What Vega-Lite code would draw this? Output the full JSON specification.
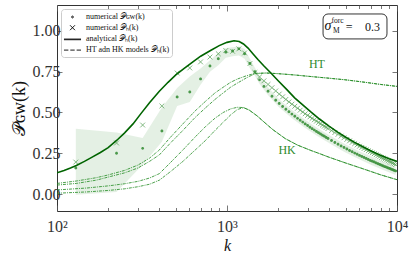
{
  "$schema": "https://vega.github.io/schema/vega-lite/v6.json",
  "width": 340,
  "height": 206,
  "autosize": {"type": "none"},
  "padding": {"left": 57, "top": 5, "right": 16, "bottom": 48},
  "config": {
    "view": {"stroke": "#333333", "strokeWidth": 1},
    "font": "Liberation Serif",
    "axis": {"grid": false, "domain": false, "labelFont": "Liberation Serif", "labelFontSize": 16, "labelColor": "#333333", "tickColor": "#555555", "tickWidth": 0.8, "titleFont": "Liberation Serif", "titleFontWeight": "normal", "titleColor": "#111111"},
    "legend": {"orient": "top-left", "offset": 4, "padding": 2, "rowPadding": 0.7, "labelFont": "Liberation Serif", "labelFontSize": 8, "labelColor": "#111111", "labelOffset": 7.5, "symbolOffset": 3.5, "symbolSize": 121, "symbolStrokeWidth": 0.9, "strokeColor": "#cccccc", "fillColor": "rgba(255,255,255,0.85)", "cornerRadius": 3, "symbolFillColor": "black", "symbolStrokeColor": "black", "symbolOpacity": 1}
  },
  "datasets": {
    "band": [
      {"k": 129, "lo": -0.005, "hi": 0.40}, {"k": 224, "lo": 0.012, "hi": 0.378}, {"k": 319, "lo": 0.18, "hi": 0.343}, {"k": 414, "lo": 0.32, "hi": 0.53},
      {"k": 509, "lo": 0.54, "hi": 0.65}, {"k": 604, "lo": 0.565, "hi": 0.72}, {"k": 699, "lo": 0.67, "hi": 0.77}, {"k": 794, "lo": 0.75, "hi": 0.82},
      {"k": 889, "lo": 0.79, "hi": 0.865}, {"k": 984, "lo": 0.835, "hi": 0.895}, {"k": 1079, "lo": 0.845, "hi": 0.90}, {"k": 1174, "lo": 0.85, "hi": 0.905},
      {"k": 1269, "lo": 0.83, "hi": 0.89}, {"k": 1364, "lo": 0.77, "hi": 0.83}, {"k": 1459, "lo": 0.725, "hi": 0.775}, {"k": 1554, "lo": 0.675, "hi": 0.725},
      {"k": 1744, "lo": 0.605, "hi": 0.655}, {"k": 2029, "lo": 0.53, "hi": 0.58}, {"k": 2409, "lo": 0.465, "hi": 0.515}, {"k": 2884, "lo": 0.405, "hi": 0.455},
      {"k": 3454, "lo": 0.351, "hi": 0.401}, {"k": 4119, "lo": 0.303, "hi": 0.353}, {"k": 4879, "lo": 0.26, "hi": 0.31}, {"k": 5829, "lo": 0.219, "hi": 0.269},
      {"k": 6969, "lo": 0.181, "hi": 0.231}, {"k": 8299, "lo": 0.147, "hi": 0.197}, {"k": 9819, "lo": 0.117, "hi": 0.167}
    ],
    "models": [
      {"s": "HT1", "k": 100, "v": 0.065}, {"s": "HT1", "k": 130, "v": 0.08}, {"s": "HT1", "k": 170, "v": 0.10}, {"s": "HT1", "k": 200, "v": 0.117}, {"s": "HT1", "k": 250, "v": 0.145}, {"s": "HT1", "k": 300, "v": 0.178}, {"s": "HT1", "k": 350, "v": 0.22}, {"s": "HT1", "k": 400, "v": 0.27}, {"s": "HT1", "k": 462, "v": 0.345}, {"s": "HT1", "k": 550, "v": 0.43}, {"s": "HT1", "k": 650, "v": 0.51}, {"s": "HT1", "k": 750, "v": 0.57}, {"s": "HT1", "k": 850, "v": 0.62}, {"s": "HT1", "k": 950, "v": 0.655}, {"s": "HT1", "k": 1050, "v": 0.685}, {"s": "HT1", "k": 1150, "v": 0.705}, {"s": "HT1", "k": 1300, "v": 0.725}, {"s": "HT1", "k": 1460, "v": 0.74}, {"s": "HT1", "k": 1700, "v": 0.742}, {"s": "HT1", "k": 2000, "v": 0.738}, {"s": "HT1", "k": 2500, "v": 0.73}, {"s": "HT1", "k": 3000, "v": 0.722}, {"s": "HT1", "k": 4000, "v": 0.71}, {"s": "HT1", "k": 5000, "v": 0.70}, {"s": "HT1", "k": 6500, "v": 0.685}, {"s": "HT1", "k": 8000, "v": 0.672}, {"s": "HT1", "k": 10000, "v": 0.66},
      {"s": "HT2", "k": 100, "v": 0.055}, {"s": "HT2", "k": 130, "v": 0.065}, {"s": "HT2", "k": 170, "v": 0.085}, {"s": "HT2", "k": 200, "v": 0.104}, {"s": "HT2", "k": 250, "v": 0.13}, {"s": "HT2", "k": 300, "v": 0.16}, {"s": "HT2", "k": 350, "v": 0.20}, {"s": "HT2", "k": 400, "v": 0.24}, {"s": "HT2", "k": 462, "v": 0.31}, {"s": "HT2", "k": 550, "v": 0.39}, {"s": "HT2", "k": 650, "v": 0.47}, {"s": "HT2", "k": 750, "v": 0.53}, {"s": "HT2", "k": 850, "v": 0.58}, {"s": "HT2", "k": 950, "v": 0.62}, {"s": "HT2", "k": 1050, "v": 0.655}, {"s": "HT2", "k": 1150, "v": 0.68}, {"s": "HT2", "k": 1300, "v": 0.712}, {"s": "HT2", "k": 1460, "v": 0.738}, {"s": "HT2", "k": 1700, "v": 0.742}, {"s": "HT2", "k": 2000, "v": 0.738}, {"s": "HT2", "k": 2500, "v": 0.73}, {"s": "HT2", "k": 3000, "v": 0.722}, {"s": "HT2", "k": 4000, "v": 0.71}, {"s": "HT2", "k": 5000, "v": 0.70}, {"s": "HT2", "k": 6500, "v": 0.685}, {"s": "HT2", "k": 8000, "v": 0.672}, {"s": "HT2", "k": 10000, "v": 0.66},
      {"s": "HK1", "k": 100, "v": 0.025}, {"s": "HK1", "k": 150, "v": 0.037}, {"s": "HK1", "k": 200, "v": 0.05}, {"s": "HK1", "k": 250, "v": 0.063}, {"s": "HK1", "k": 300, "v": 0.078}, {"s": "HK1", "k": 350, "v": 0.098}, {"s": "HK1", "k": 400, "v": 0.125}, {"s": "HK1", "k": 462, "v": 0.19}, {"s": "HK1", "k": 550, "v": 0.27}, {"s": "HK1", "k": 650, "v": 0.35}, {"s": "HK1", "k": 750, "v": 0.415}, {"s": "HK1", "k": 850, "v": 0.465}, {"s": "HK1", "k": 950, "v": 0.50}, {"s": "HK1", "k": 1050, "v": 0.522}, {"s": "HK1", "k": 1150, "v": 0.532}, {"s": "HK1", "k": 1250, "v": 0.53}, {"s": "HK1", "k": 1350, "v": 0.515}, {"s": "HK1", "k": 1500, "v": 0.48}, {"s": "HK1", "k": 1700, "v": 0.43}, {"s": "HK1", "k": 1860, "v": 0.395}, {"s": "HK1", "k": 2200, "v": 0.34}, {"s": "HK1", "k": 2600, "v": 0.30}, {"s": "HK1", "k": 3100, "v": 0.268}, {"s": "HK1", "k": 3500, "v": 0.248}, {"s": "HK1", "k": 4000, "v": 0.225}, {"s": "HK1", "k": 5000, "v": 0.19}, {"s": "HK1", "k": 6300, "v": 0.155}, {"s": "HK1", "k": 8000, "v": 0.118}, {"s": "HK1", "k": 10000, "v": 0.088},
      {"s": "HK2", "k": 100, "v": 0.005}, {"s": "HK2", "k": 150, "v": 0.013}, {"s": "HK2", "k": 200, "v": 0.022}, {"s": "HK2", "k": 250, "v": 0.032}, {"s": "HK2", "k": 300, "v": 0.045}, {"s": "HK2", "k": 350, "v": 0.06}, {"s": "HK2", "k": 400, "v": 0.085}, {"s": "HK2", "k": 462, "v": 0.135}, {"s": "HK2", "k": 550, "v": 0.20}, {"s": "HK2", "k": 650, "v": 0.27}, {"s": "HK2", "k": 750, "v": 0.33}, {"s": "HK2", "k": 850, "v": 0.39}, {"s": "HK2", "k": 950, "v": 0.44}, {"s": "HK2", "k": 1050, "v": 0.485}, {"s": "HK2", "k": 1150, "v": 0.518}, {"s": "HK2", "k": 1250, "v": 0.53}, {"s": "HK2", "k": 1350, "v": 0.515}, {"s": "HK2", "k": 1500, "v": 0.48}, {"s": "HK2", "k": 1700, "v": 0.43}, {"s": "HK2", "k": 1860, "v": 0.395}, {"s": "HK2", "k": 2200, "v": 0.34}, {"s": "HK2", "k": 2600, "v": 0.30}, {"s": "HK2", "k": 3100, "v": 0.268}, {"s": "HK2", "k": 3500, "v": 0.248}, {"s": "HK2", "k": 4000, "v": 0.225}, {"s": "HK2", "k": 5000, "v": 0.19}, {"s": "HK2", "k": 6300, "v": 0.155}, {"s": "HK2", "k": 8000, "v": 0.118}, {"s": "HK2", "k": 10000, "v": 0.088}
    ],
    "analytic": [
      {"k": 100, "v": 0.13}, {"k": 110, "v": 0.145}, {"k": 120, "v": 0.16}, {"k": 130, "v": 0.175}, {"k": 145, "v": 0.20}, {"k": 160, "v": 0.225}, {"k": 180, "v": 0.255}, {"k": 200, "v": 0.285}, {"k": 225, "v": 0.33}, {"k": 250, "v": 0.375}, {"k": 280, "v": 0.43}, {"k": 310, "v": 0.49}, {"k": 350, "v": 0.56}, {"k": 400, "v": 0.63}, {"k": 450, "v": 0.685}, {"k": 500, "v": 0.73}, {"k": 560, "v": 0.77}, {"k": 630, "v": 0.81}, {"k": 700, "v": 0.845}, {"k": 800, "v": 0.88}, {"k": 900, "v": 0.91}, {"k": 1000, "v": 0.93}, {"k": 1100, "v": 0.94}, {"k": 1180, "v": 0.935}, {"k": 1250, "v": 0.92}, {"k": 1330, "v": 0.895}, {"k": 1420, "v": 0.86}, {"k": 1520, "v": 0.825}, {"k": 1650, "v": 0.785}, {"k": 1800, "v": 0.745}, {"k": 2000, "v": 0.695}, {"k": 2250, "v": 0.64}, {"k": 2500, "v": 0.59}, {"k": 2800, "v": 0.545}, {"k": 3100, "v": 0.505}, {"k": 3500, "v": 0.46}, {"k": 4000, "v": 0.415}, {"k": 4500, "v": 0.378}, {"k": 5000, "v": 0.348}, {"k": 5600, "v": 0.318}, {"k": 6300, "v": 0.29}, {"k": 7000, "v": 0.265}, {"k": 8000, "v": 0.238}, {"k": 9000, "v": 0.217}, {"k": 10000, "v": 0.20}
    ],
    "crosses": [
      {"k": 129, "v": 0.196}, {"k": 224, "v": 0.313}, {"k": 319, "v": 0.423}, {"k": 414, "v": 0.54}, {"k": 509, "v": 0.742}, {"k": 604, "v": 0.773}, {"k": 699, "v": 0.81}, {"k": 794, "v": 0.84}, {"k": 889, "v": 0.86}, {"k": 984, "v": 0.88}, {"k": 1079, "v": 0.875}, {"k": 1174, "v": 0.89}, {"k": 1269, "v": 0.865}, {"k": 1364, "v": 0.80},
      {"k": 1459, "v": 0.745}, {"k": 1554, "v": 0.718}, {"k": 1649, "v": 0.694}, {"k": 1744, "v": 0.672}, {"k": 1839, "v": 0.652}, {"k": 1934, "v": 0.632}, {"k": 2029, "v": 0.613}, {"k": 2124, "v": 0.596}, {"k": 2219, "v": 0.58}, {"k": 2314, "v": 0.565}, {"k": 2409, "v": 0.551}, {"k": 2504, "v": 0.538}, {"k": 2599, "v": 0.526}, {"k": 2694, "v": 0.514}, {"k": 2789, "v": 0.503}, {"k": 2884, "v": 0.492}, {"k": 2979, "v": 0.482}, {"k": 3074, "v": 0.473}, {"k": 3169, "v": 0.464}, {"k": 3264, "v": 0.455}, {"k": 3359, "v": 0.447}, {"k": 3454, "v": 0.439}, {"k": 3549, "v": 0.431}, {"k": 3644, "v": 0.423}, {"k": 3739, "v": 0.416}, {"k": 3834, "v": 0.409}, {"k": 3929, "v": 0.402},
      {"k": 4119, "v": 0.389}, {"k": 4309, "v": 0.377}, {"k": 4499, "v": 0.366}, {"k": 4689, "v": 0.355}, {"k": 4879, "v": 0.345}, {"k": 5069, "v": 0.335}, {"k": 5259, "v": 0.326}, {"k": 5449, "v": 0.317}, {"k": 5639, "v": 0.309}, {"k": 5829, "v": 0.301}, {"k": 6019, "v": 0.293}, {"k": 6209, "v": 0.286}, {"k": 6399, "v": 0.279}, {"k": 6589, "v": 0.272}, {"k": 6779, "v": 0.265}, {"k": 6969, "v": 0.259}, {"k": 7159, "v": 0.253}, {"k": 7349, "v": 0.247}, {"k": 7539, "v": 0.241}, {"k": 7729, "v": 0.235}, {"k": 7919, "v": 0.23}, {"k": 8109, "v": 0.224}, {"k": 8299, "v": 0.219}, {"k": 8489, "v": 0.214}, {"k": 8679, "v": 0.209}, {"k": 8869, "v": 0.204}, {"k": 9059, "v": 0.199}, {"k": 9249, "v": 0.195}, {"k": 9439, "v": 0.19}, {"k": 9629, "v": 0.186}, {"k": 9819, "v": 0.181}
    ],
    "dots": [
      {"k": 129, "v": 0.16}, {"k": 224, "v": 0.25}, {"k": 319, "v": 0.28}, {"k": 414, "v": 0.386}, {"k": 509, "v": 0.595}, {"k": 604, "v": 0.626}, {"k": 699, "v": 0.706}, {"k": 794, "v": 0.785}, {"k": 889, "v": 0.83}, {"k": 984, "v": 0.87}, {"k": 1079, "v": 0.877}, {"k": 1174, "v": 0.89}, {"k": 1269, "v": 0.86}, {"k": 1364, "v": 0.80},
      {"k": 1459, "v": 0.75}, {"k": 1554, "v": 0.70}, {"k": 1649, "v": 0.66}, {"k": 1744, "v": 0.63}, {"k": 1839, "v": 0.60}, {"k": 1934, "v": 0.575}, {"k": 2029, "v": 0.555}, {"k": 2124, "v": 0.537}, {"k": 2219, "v": 0.52}, {"k": 2314, "v": 0.505}, {"k": 2409, "v": 0.49}, {"k": 2504, "v": 0.477}, {"k": 2599, "v": 0.464}, {"k": 2694, "v": 0.452}, {"k": 2789, "v": 0.441}, {"k": 2884, "v": 0.43}, {"k": 2979, "v": 0.42}, {"k": 3074, "v": 0.41}, {"k": 3169, "v": 0.401}, {"k": 3264, "v": 0.392}, {"k": 3359, "v": 0.384}, {"k": 3454, "v": 0.376}, {"k": 3549, "v": 0.368}, {"k": 3644, "v": 0.361}, {"k": 3739, "v": 0.354}, {"k": 3834, "v": 0.347}, {"k": 3929, "v": 0.34},
      {"k": 4119, "v": 0.328}, {"k": 4309, "v": 0.316}, {"k": 4499, "v": 0.305}, {"k": 4689, "v": 0.295}, {"k": 4879, "v": 0.285}, {"k": 5069, "v": 0.276}, {"k": 5259, "v": 0.267}, {"k": 5449, "v": 0.259}, {"k": 5639, "v": 0.251}, {"k": 5829, "v": 0.244}, {"k": 6019, "v": 0.237}, {"k": 6209, "v": 0.23}, {"k": 6399, "v": 0.224}, {"k": 6589, "v": 0.218}, {"k": 6779, "v": 0.212}, {"k": 6969, "v": 0.206}, {"k": 7159, "v": 0.201}, {"k": 7349, "v": 0.196}, {"k": 7539, "v": 0.191}, {"k": 7729, "v": 0.186}, {"k": 7919, "v": 0.181}, {"k": 8109, "v": 0.176}, {"k": 8299, "v": 0.172}, {"k": 8489, "v": 0.168}, {"k": 8679, "v": 0.164}, {"k": 8869, "v": 0.16}, {"k": 9059, "v": 0.156}, {"k": 9249, "v": 0.152}, {"k": 9439, "v": 0.149}, {"k": 9629, "v": 0.145}, {"k": 9819, "v": 0.142}
    ]
  },
  "layer": [
    {
      "data": {"name": "band"},
      "mark": {"type": "area", "color": "#2e8b2e", "opacity": 0.13, "clip": true},
      "encoding": {
        "x": {"field": "k", "type": "quantitative", "scale": {"type": "log", "domain": [100, 10000], "nice": false},
          "axis": {"orient": "bottom", "values": [100, 200, 300, 400, 500, 600, 700, 800, 900, 1000, 2000, 3000, 4000, 5000, 6000, 7000, 8000, 9000, 10000],
            "labelExpr": "datum.value == 100 ? '10²' : datum.value == 1000 ? '10³' : datum.value == 10000 ? '10⁴' : ''",
            "tickSize": {"condition": {"test": "datum.value == 100 || datum.value == 1000 || datum.value == 10000", "value": -6}, "value": -3.5},
            "labelPadding": 13, "labelOverlap": false, "labelFlush": false, "title": "k", "titleFontStyle": "italic", "titleFontSize": 16, "titleBaseline": "alphabetic", "titlePadding": 14}},
        "y": {"field": "lo", "type": "quantitative", "scale": {"domain": [-0.104, 1.159], "nice": false, "zero": false},
          "axis": {"orient": "left", "values": [0, 0.25, 0.5, 0.75, 1], "format": ".2f", "tickSize": -5, "labelPadding": 2, "title": "𝒫ɢᴡ(k)", "titleFontSize": 18, "titlePadding": 4}},
        "y2": {"field": "hi"}
      }
    },
    {
      "data": {"name": "models"},
      "mark": {"type": "line", "color": "#228b22", "opacity": 0.9, "strokeWidth": 0.9, "strokeDash": [3, 1, 1, 1], "clip": true},
      "encoding": {
        "x": {"field": "k", "type": "quantitative", "axis": null},
        "y": {"field": "v", "type": "quantitative", "axis": null},
        "detail": {"field": "s"}
      }
    },
    {
      "data": {"name": "crosses"},
      "mark": {"type": "point", "color": "#4a9a4a", "filled": false, "opacity": 0.85, "size": 113, "strokeWidth": 0.8, "clip": true},
      "encoding": {
        "x": {"field": "k", "type": "quantitative", "axis": null},
        "y": {"field": "v", "type": "quantitative", "axis": null},
        "shape": {"datum": "numerical 𝒫ₕ(k)", "type": "nominal", "title": null,
          "scale": {"domain": ["numerical 𝒫ɢᴡ(k)", "numerical 𝒫ₕ(k)", "analytical 𝒫ₕ(k)", "HT adn HK models 𝒫ₕ(k)"],
            "range": ["M-0.17,0A0.17,0.17,0,1,0,0.17,0A0.17,0.17,0,1,0,-0.17,0Z", "M-0.45,-0.45L0.45,0.45M-0.45,0.45L0.45,-0.45", "M-1.55,-0.06L1.55,-0.06M-1.55,0.06L1.55,0.06", "M-1.55,0L-0.75,0M-0.4,0L0.4,0M0.75,0L1.55,0"]},
          "legend": {"encode": {"symbols": {"update": {"fill": {"value": "black"}, "fillOpacity": {"value": 1}, "stroke": {"value": "black"}, "opacity": {"value": 1}}}}}}
      }
    },
    {
      "data": {"name": "dots"},
      "mark": {"type": "point", "color": "#3a8f3a", "filled": true, "opacity": 0.9, "size": 300, "clip": true},
      "encoding": {
        "x": {"field": "k", "type": "quantitative", "axis": null},
        "y": {"field": "v", "type": "quantitative", "axis": null},
        "shape": {"datum": "numerical 𝒫ɢᴡ(k)", "type": "nominal", "title": null,
          "legend": {"encode": {"symbols": {"update": {"fill": {"value": "black"}, "fillOpacity": {"value": 1}, "stroke": {"value": "black"}, "opacity": {"value": 1}}}}}}
      }
    },
    {
      "data": {"name": "analytic"},
      "mark": {"type": "line", "color": "#006400", "strokeWidth": 1.6, "clip": true},
      "encoding": {
        "x": {"field": "k", "type": "quantitative",
          "axis": {"orient": "top", "values": [100, 200, 300, 400, 500, 600, 700, 800, 900, 1000, 2000, 3000, 4000, 5000, 6000, 7000, 8000, 9000, 10000], "labels": false, "title": null,
            "tickSize": {"condition": {"test": "datum.value == 100 || datum.value == 1000 || datum.value == 10000", "value": -6}, "value": -3.5}}},
        "y": {"field": "v", "type": "quantitative",
          "axis": {"orient": "right", "values": [0, 0.25, 0.5, 0.75, 1], "labels": false, "title": null, "tickSize": -5}}
      }
    },
    {
      "data": {"values": [{}]},
      "mark": {"type": "text", "font": "Liberation Serif", "fontSize": 12, "color": "#2e8b2e"},
      "encoding": {"x": {"datum": 3381, "type": "quantitative", "axis": null}, "y": {"datum": 0.80, "type": "quantitative", "axis": null}, "text": {"value": "HT"}}
    },
    {
      "data": {"values": [{}]},
      "mark": {"type": "text", "font": "Liberation Serif", "fontSize": 12, "color": "#2e8b2e"},
      "encoding": {"x": {"datum": 2256, "type": "quantitative", "axis": null}, "y": {"datum": 0.273, "type": "quantitative", "axis": null}, "text": {"value": "HK"}}
    },
    {
      "data": {"values": [{}]},
      "mark": {"type": "rect", "fill": "white", "stroke": "#333333", "strokeWidth": 1, "cornerRadius": 5},
      "encoding": {"x": {"datum": 3673, "type": "quantitative", "axis": null}, "x2": {"datum": 8730}, "y": {"datum": 0.951, "type": "quantitative", "axis": null}, "y2": {"datum": 1.104}}
    },
    {
      "data": {"values": [{}]},
      "mark": {"type": "text", "font": "Liberation Serif", "fontSize": 14, "fontStyle": "italic", "color": "#111111"},
      "encoding": {"x": {"datum": 3926, "type": "quantitative", "axis": null}, "y": {"datum": 1.03, "type": "quantitative", "axis": null}, "text": {"value": "σ"}}
    },
    {
      "data": {"values": [{}]},
      "mark": {"type": "text", "font": "Liberation Serif", "fontSize": 7.5, "color": "#111111"},
      "encoding": {"x": {"datum": 4467, "type": "quantitative", "axis": null}, "y": {"datum": 1.058, "type": "quantitative", "axis": null}, "text": {"value": "forc"}}
    },
    {
      "data": {"values": [{}]},
      "mark": {"type": "text", "font": "Liberation Serif", "fontSize": 7.5, "color": "#111111"},
      "encoding": {"x": {"datum": 4400, "type": "quantitative", "axis": null}, "y": {"datum": 1.0, "type": "quantitative", "axis": null}, "text": {"value": "M"}}
    },
    {
      "data": {"values": [{}]},
      "mark": {"type": "text", "font": "Liberation Serif", "fontSize": 12, "color": "#111111"},
      "encoding": {"x": {"datum": 5226, "type": "quantitative", "axis": null}, "y": {"datum": 1.025, "type": "quantitative", "axis": null}, "text": {"value": "="}}
    },
    {
      "data": {"values": [{}]},
      "mark": {"type": "text", "font": "Liberation Serif", "fontSize": 12, "color": "#111111"},
      "encoding": {"x": {"datum": 7180, "type": "quantitative", "axis": null}, "y": {"datum": 1.025, "type": "quantitative", "axis": null}, "text": {"value": "0.3"}}
    }
  ],
  "resolve": {"axis": {"x": "independent", "y": "independent"}}
}
